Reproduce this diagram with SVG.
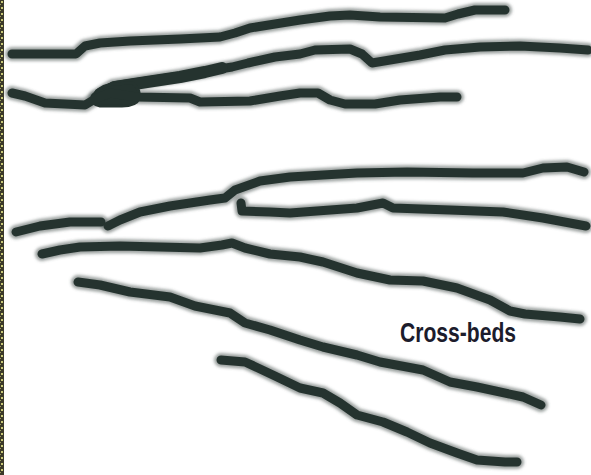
<svg xmlns="http://www.w3.org/2000/svg" width="591" height="475" viewBox="0 0 591 475">
  <defs>
    <filter id="soft" x="-5%" y="-20%" width="110%" height="140%">
      <feGaussianBlur stdDeviation="1.8"/>
    </filter>
    <pattern id="grain" width="4" height="6" patternUnits="userSpaceOnUse">
      <rect width="4" height="6" fill="#3c3a2a"/>
      <rect x="1" y="1" width="2" height="2" fill="#c8c878"/>
      <rect x="0" y="4" width="1" height="1" fill="#9a9a60"/>
    </pattern>
  </defs>
  <style>
    .bed { fill: none; stroke: #25332f; stroke-width: 9; stroke-linecap: round; stroke-linejoin: round; }
    .halo { fill: none; stroke: #4e5a58; stroke-opacity: 0.55; stroke-width: 14; stroke-linecap: round; stroke-linejoin: round; }
    .thick { stroke-width: 12; }
    .knot { fill: #25332f; stroke: #25332f; stroke-width: 3; stroke-linejoin: round; }
    .label { font-family: "Liberation Sans", Arial, sans-serif; font-weight: bold; font-size: 28px; fill: #1c1c2c; }
  </style>

  <rect width="591" height="475" fill="#ffffff"/>
  <!-- scanned paper edge on the left -->
  <rect x="0" y="0" width="4" height="475" fill="url(#grain)"/>

  <g id="beds">
    <g id="bed-lines-halo" filter="url(#soft)">
      <polyline class="halo" points="12,54 76,54 85,46 100,43 130,41 180,39 220,37 235,33 250,28 275,24 300,20 330,16 350,15 380,17 445,18 458,14 475,10 505,10"/>
      <polyline class="halo" points="95,97 113,86 147,81 180,76 213,70 232,67 248,63 275,57 300,54 315,50 350,49 362,54 372,63 390,60 420,55 445,50 480,47 520,46 560,48 588,50"/>
      <polyline class="halo" points="12,93 25,96 45,103 85,105 95,99 110,93 137,97 190,98 200,102 250,101 280,96 300,93 318,93 330,100 345,104 375,104 400,100 440,97 457,97"/>
      <polyline class="halo" points="16,232 40,226 70,222 101,222"/>
      <polyline class="halo" points="108,226 120,220 140,212 170,206 210,200 225,198 235,190 260,181 290,177 323,175 357,173 407,172 473,173 523,173 543,168 567,167 584,172"/>
      <polyline class="halo" points="241,203 242,211 270,212 290,213 357,208 383,203 393,208 450,210 503,212 543,218 586,226"/>
      <polyline class="halo" points="42,254 60,250 80,247 120,246 200,248 222,245 232,243 245,248 270,254 300,257 323,262 357,273 390,280 423,281 457,288 490,300 510,311 525,314 560,317 580,319"/>
      <polyline class="halo" points="78,282 100,285 130,292 170,297 195,306 215,310 230,313 245,323 270,330 300,340 323,347 357,355 380,362 423,370 450,382 477,387 523,397 541,405"/>
      <polyline class="halo" points="221,360 245,362 258,368 275,376 300,388 323,393 340,403 357,415 383,422 407,432 430,443 457,453 477,460 505,462 517,462"/>
    </g>

    <g id="bed-1">
      <polyline class="bed" points="12,54 76,54 85,46 100,43 130,41 180,39 220,37 235,33 250,28 275,24 300,20 330,16 350,15 380,17 445,18 458,14 475,10 505,10"/>
    </g>
    <g id="bed-2">
      <polyline class="bed" points="95,97 113,86 147,81 180,76 213,70 232,67 248,63 275,57 300,54 315,50 350,49 362,54 372,63 390,60 420,55 445,50 480,47 520,46 560,48 588,50"/>
      <polyline class="bed thick" points="100,94 115,87 147,82 180,77 205,72 222,68"/>
      <!-- where the two lower sets merge into one heavy stroke -->
      <path class="knot" d="M92,98 Q97,87 112,84 L133,83 Q141,90 139,99 Q136,106 122,106 L100,106 Q91,104 92,98 Z"/>
    </g>
    <g id="bed-3">
      <polyline class="bed" points="12,93 25,96 45,103 85,105 95,99 110,93 137,97 190,98 200,102 250,101 280,96 300,93 318,93 330,100 345,104 375,104 400,100 440,97 457,97"/>
    </g>
    <g id="bed-4">
      <polyline class="bed" points="16,232 40,226 70,222 101,222"/>
      <polyline class="bed" points="108,226 120,220 140,212 170,206 210,200 225,198 235,190 260,181 290,177 323,175 357,173 407,172 473,173 523,173 543,168 567,167 584,172"/>
    </g>
    <g id="bed-5">
      <polyline class="bed" points="241,203 242,211 270,212 290,213 357,208 383,203 393,208 450,210 503,212 543,218 586,226"/>
    </g>
    <g id="bed-6">
      <polyline class="bed" points="42,254 60,250 80,247 120,246 200,248 222,245 232,243 245,248 270,254 300,257 323,262 357,273 390,280 423,281 457,288 490,300 510,311 525,314 560,317 580,319"/>
    </g>
    <g id="bed-7">
      <polyline class="bed" points="78,282 100,285 130,292 170,297 195,306 215,310 230,313 245,323 270,330 300,340 323,347 357,355 380,362 423,370 450,382 477,387 523,397 541,405"/>
    </g>
    <g id="bed-8">
      <polyline class="bed" points="221,360 245,362 258,368 275,376 300,388 323,393 340,403 357,415 383,422 407,432 430,443 457,453 477,460 505,462 517,462"/>
    </g>
  </g>

  <g id="label">
    <text class="label" x="400" y="342" textLength="116" lengthAdjust="spacingAndGlyphs">Cross-beds</text>
  </g>
</svg>
